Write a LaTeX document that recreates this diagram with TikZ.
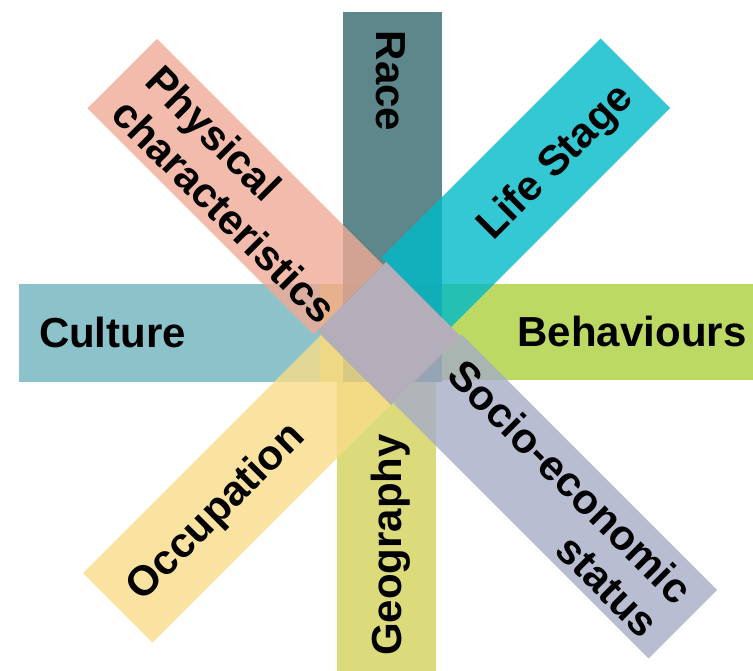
\documentclass[tikz,border=0pt]{standalone}
\usepackage{fontspec}
\setmainfont{Liberation Sans}
\newcommand{\labelfont}{\fontsize{42}{47}\selectfont\bfseries}
\definecolor{raceC}{RGB}{53,105,110}
\definecolor{geoC}{RGB}{211,210,91}
\definecolor{cultC}{RGB}{111,180,189}
\definecolor{behavC}{RGB}{171,207,60}
\definecolor{physC}{RGB}{240,170,150}
\definecolor{lifeC}{RGB}{0,186,201}
\definecolor{occC}{RGB}{249,220,136}
\definecolor{socioC}{RGB}{166,173,198}
\definecolor{hubC}{RGB}{179,174,186}
\begin{document}
\begin{tikzpicture}[x=1pt,y=-1pt,
  bar/.style={fill=#1,fill opacity=0.8},
  lbl/.style={font=\labelfont,inner sep=0pt,text=black}]
\path[use as bounding box] (0,0) rectangle (753,671);

% horizontal and vertical bars
\fill[bar=cultC] (19,284) rectangle (343,382);
\fill[bar=geoC] (320,284) rectangle (442,382);
\fill[bar=behavC] (442,284) rectangle (753,380);
\fill[bar=raceC] (343,12) rectangle (441.5,382);
\fill[bar=geoC] (337,382) rectangle (436,671);

% diagonal bars
\fill[bar=physC] (157,39) -- (87.5,108.5) -- (313.5,334.5) -- (383,265) -- cycle;
\fill[bar=lifeC] (600.5,38.5) -- (670,108) -- (451,327) -- (381.5,257.5) -- cycle;
\fill[bar=occC] (83,573) -- (152.5,642.5) -- (390.5,404.5) -- (321,335) -- cycle;
\fill[bar=socioC] (461.5,334.5) -- (393,403) -- (648.5,658.5) -- (717,590) -- cycle;

% central square where the diagonals cross
\fill[hubC] (317,331) -- (386,262) -- (460,336) -- (391,405) -- cycle;

% labels
\node[lbl,anchor=base,rotate=-90] (race) at (376.5,81) {Race};
\node[lbl,anchor=base,rotate=90] (geo) at (401,545) {Geography};
\node[lbl,anchor=base] (cult) at (112.5,348) {Culture};
\node[lbl,anchor=base] (behav) at (632,347) {Behaviours};
\node[lbl,anchor=base,rotate=45] (life) at (564,171) {Life Stage};
\node[lbl,anchor=base,rotate=45] (occ) at (224.5,520.5) {Occupation};
\node[lbl,anchor=base west,rotate=-45] (phys1) at (143,83.5) {Physical};
\node[lbl,anchor=base west,rotate=-45] (phys2) at (109,116.5) {characteristics};
\node[lbl,anchor=base east,rotate=-45] (socio1) at (674.7,606.8) {Socio-economic};
\node[lbl,anchor=base east,rotate=-45] (socio2) at (641.4,640) {status};
\end{tikzpicture}
\end{document}
